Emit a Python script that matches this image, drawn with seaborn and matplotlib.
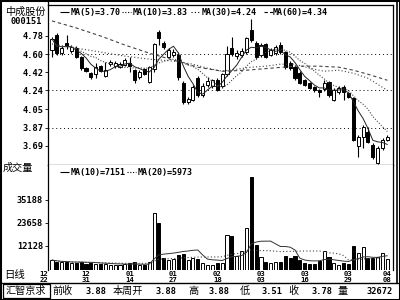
import numpy as np
import pandas as pd
import matplotlib
matplotlib.use("Agg")
import matplotlib.pyplot as plt
import matplotlib.transforms as mtrans
from matplotlib.lines import Line2D
from matplotlib.patches import Rectangle
import seaborn as sns

# ---------------- data ----------------
stock_name = "中成股份"
stock_code = "000151"

opens = [4.64, 4.79, 4.61, 4.71, 4.63, 4.66, 4.57, 4.46, 4.41, 4.40,
         4.48, 4.38, 4.50, 4.48, 4.47, 4.49, 4.51, 4.44, 4.37, 4.45,
         4.32, 4.45, 4.82, 4.71, 4.57, 4.59, 4.59, 4.31, 4.12, 4.14,
         4.36, 4.19, 4.29, 4.28, 4.34, 4.28, 4.40, 4.66, 4.58, 4.59,
         4.62, 4.84, 4.71, 4.59, 4.70, 4.59, 4.61, 4.69, 4.62, 4.51,
         4.47, 4.41, 4.34, 4.31, 4.27, 4.24, 4.25, 4.32, 4.14, 4.22,
         4.27, 4.21, 4.16, 3.69, 3.78, 3.83, 3.70, 3.52, 3.67, 3.75]
highs = [4.77, 4.81, 4.68, 4.79, 4.69, 4.68, 4.58, 4.47, 4.42, 4.51,
         4.49, 4.52, 4.54, 4.53, 4.52, 4.56, 4.57, 4.45, 4.44, 4.46,
         4.48, 4.71, 4.84, 4.73, 4.66, 4.65, 4.62, 4.33, 4.17, 4.29,
         4.38, 4.31, 4.37, 4.35, 4.36, 4.41, 4.68, 4.77, 4.64, 4.66,
         4.77, 4.95, 4.73, 4.71, 4.71, 4.66, 4.69, 4.72, 4.63, 4.53,
         4.49, 4.43, 4.35, 4.32, 4.28, 4.25, 4.34, 4.33, 4.26, 4.28,
         4.29, 4.22, 4.17, 3.80, 3.90, 3.88, 3.72, 3.69, 3.77, 3.80]
lows = [4.57, 4.59, 4.59, 4.65, 4.61, 4.56, 4.44, 4.42, 4.35, 4.36,
        4.42, 4.37, 4.48, 4.46, 4.46, 4.48, 4.42, 4.31, 4.35, 4.39,
        4.31, 4.42, 4.69, 4.65, 4.56, 4.57, 4.34, 4.10, 4.10, 4.13,
        4.17, 4.17, 4.27, 4.26, 4.23, 4.26, 4.38, 4.58, 4.55, 4.57,
        4.60, 4.72, 4.55, 4.57, 4.56, 4.58, 4.59, 4.60, 4.45, 4.44,
        4.34, 4.30, 4.28, 4.25, 4.22, 4.17, 4.23, 4.17, 4.13, 4.20,
        4.14, 4.16, 3.74, 3.58, 3.67, 3.72, 3.56, 3.51, 3.65, 3.74]
closes = [4.75, 4.61, 4.66, 4.68, 4.67, 4.57, 4.46, 4.43, 4.37, 4.47,
          4.43, 4.44, 4.52, 4.51, 4.50, 4.54, 4.48, 4.34, 4.42, 4.40,
          4.47, 4.70, 4.76, 4.67, 4.64, 4.62, 4.37, 4.12, 4.15, 4.27,
          4.19, 4.28, 4.33, 4.34, 4.24, 4.40, 4.60, 4.60, 4.61, 4.63,
          4.76, 4.74, 4.57, 4.69, 4.57, 4.64, 4.67, 4.62, 4.47, 4.46,
          4.36, 4.31, 4.29, 4.26, 4.24, 4.22, 4.31, 4.19, 4.24, 4.26,
          4.22, 4.17, 3.75, 3.78, 3.88, 3.73, 3.58, 3.67, 3.75, 3.78]
volumes = [5000, 4200, 3800, 4000, 3300, 3500, 4200, 3000, 3400, 3200,
           2800, 3000, 2600, 2400, 2500, 2800, 3600, 3800, 2600, 2500,
           4000, 28500, 23500, 6000, 5000, 5500, 7500, 8000, 5000, 6000,
           5500, 3500, 2600, 2600, 3500, 3500, 17500, 17000, 7000, 9500,
           21000, 46600, 12500, 6500, 4000, 3500, 3800, 3800, 7000, 6000,
           6800, 5200, 3500, 3000, 3000, 4300, 9500, 6650, 3300, 2700,
           3600, 3200, 12000, 8600, 11438, 6000, 6200, 6500, 8300, 5672]

ma30_idx = [0, 5, 10, 15, 20, 25, 29, 32, 35, 38, 41, 44, 47, 50, 53, 56, 59, 62, 65, 67, 69]
ma30_val = [4.70, 4.66, 4.62, 4.58, 4.55, 4.53, 4.50, 4.46, 4.43, 4.45, 4.47, 4.48,
            4.50, 4.50, 4.46, 4.43, 4.44, 4.41, 4.36, 4.30, 4.24]
ma60_idx = [0, 5, 10, 15, 20, 25, 30, 35, 40, 45, 50, 55, 59, 62, 65, 67, 69]
ma60_val = [4.93, 4.86, 4.78, 4.69, 4.61, 4.54, 4.47, 4.43, 4.44, 4.46, 4.48, 4.48,
            4.47, 4.44, 4.40, 4.37, 4.34]

date_labels = ["12\n22", "12\n31", "01\n14", "01\n27", "02\n18",
               "03\n03", "03\n16", "03\n29", "04\n08"]
date_idx = [0, 7, 16, 25, 34, 43, 52, 61, 69]

price_ticks = [4.78, 4.60, 4.42, 4.24, 4.05, 3.87, 3.69]
price_tick_labels = ["4.78", "4.60", "4.42", "4.24", "4.05", "3.87", "3.69"]
price_grid = [4.60, 4.24, 3.87]
vol_ticks = [35188, 23658, 12128]

summary_labels = ["前收", "本周开", "高", "低", "收", "量"]
summary_values = ["3.88", "3.88", "3.88", "3.51", "3.78", "32672"]
broker = "汇智京求"
period_label = "日线"
volume_label = "成交量"

# ---------------- style ----------------
sns.set_theme(style="white")
plt.rcParams['font.family'] = ['DejaVu Sans Mono', 'Noto Sans CJK SC']
MONO = dict(family='DejaVu Sans Mono', weight='bold')
CJK = dict(family=['Noto Sans CJK SC', 'DejaVu Sans'])

fig = plt.figure(figsize=(4, 3), dpi=100)
fig.patch.set_facecolor('white')

def FX(px):
    return px / 400.0

def FY(py):
    return 1 - py / 300.0

L, R = 48, 393
ax_p = fig.add_axes([FX(L), FY(165), FX(R - L), 160 / 300])
ax_v = fig.add_axes([FX(L), FY(270), FX(R - L), 105 / 300])

n = len(closes)
x = np.arange(n)
o = np.array(opens); c = np.array(closes)
h = np.array(highs); lo = np.array(lows)
up = c >= o
cols = ['white' if u else 'black' for u in up]

df = pd.DataFrame({'i': x, 'close': c, 'vol': volumes})
df['ma5'] = df['close'].rolling(5, min_periods=1).mean()
df['ma10'] = df['close'].rolling(10, min_periods=1).mean()
df['vma10'] = df['vol'].rolling(10, min_periods=1).mean()
df['vma20'] = df['vol'].rolling(20, min_periods=1).mean()

# ---------------- price panel ----------------
for g in price_grid:
    ax_p.axhline(g, color='black', lw=0.7, ls=(0, (1, 3)), zorder=1)

ax_p.vlines(x, lo, h, color='black', lw=0.8, zorder=3)
body = np.maximum(np.abs(c - o), 0.006)
ax_p.bar(x, body, bottom=np.minimum(o, c), width=0.64, color=cols,
         edgecolor='black', linewidth=0.7, zorder=4)

sns.lineplot(x=df['i'], y=df['ma5'], ax=ax_p, color='#222222', lw=0.7, zorder=5)
sns.lineplot(x=df['i'], y=df['ma10'], ax=ax_p, color='#444444', lw=0.8,
             linestyle=(0, (1, 1.5)), zorder=5)
sns.lineplot(x=ma30_idx, y=ma30_val, ax=ax_p, color='#444444', lw=0.8,
             linestyle=(0, (1, 2)), zorder=5)
sns.lineplot(x=ma60_idx, y=ma60_val, ax=ax_p, color='#444444', lw=0.8,
             linestyle=(0, (3, 2.5)), zorder=5)

ax_p.set_xlim(-0.82, 70.16)
ax_p.set_ylim(3.498, 5.088)
ax_p.set_xticks([])
ax_p.set_yticks(price_ticks)
ax_p.set_yticklabels(price_tick_labels)
ax_p.set_xlabel(''); ax_p.set_ylabel('')

# ---------------- volume panel ----------------
ax_v.bar(x, volumes, width=0.64, color=cols, edgecolor='black', linewidth=0.7, zorder=3)
sns.lineplot(x=df['i'], y=df['vma10'], ax=ax_v, color='#333333', lw=0.7, zorder=4)
sns.lineplot(x=df['i'], y=df['vma20'], ax=ax_v, color='#444444', lw=0.8,
             linestyle=(0, (1, 2)), zorder=4)
ax_v.set_xlim(-0.82, 70.16)
ax_v.set_ylim(0, 52780)
ax_v.set_xticks([])
ax_v.set_yticks(vol_ticks)
ax_v.set_yticklabels([str(v) for v in vol_ticks])
ax_v.set_xlabel(''); ax_v.set_ylabel('')

for ax in (ax_p, ax_v):
    ax.set_facecolor('white')
    ax.tick_params(axis='y', left=True, length=2, width=0.6, pad=1.5,
                   direction='out', colors='black', labelsize=6.2)
    for lbl in ax.get_yticklabels():
        lbl.set_fontfamily('DejaVu Sans Mono')
        lbl.set_fontweight('bold')
    for s in ax.spines.values():
        s.set_color('black')
        s.set_linewidth(0.9)
ax_v.spines['top'].set_visible(False)
ax_v.spines['bottom'].set_visible(False)

# date labels under the volume panel
tr = mtrans.blended_transform_factory(ax_v.transData, fig.transFigure)
for k, (lab, di) in enumerate(zip(date_labels, date_idx)):
    top, bot = lab.split("\n")
    xpos = -0.82 if k == 0 else di
    ha = 'right' if k == 0 else 'center'
    ax_v.text(xpos, FY(273.5), top, transform=tr, ha=ha, va='center',
              fontsize=5.2, color='black', **MONO)
    ax_v.text(xpos, FY(279.5), bot, transform=tr, ha=ha, va='center',
              fontsize=5.2, color='black', **MONO)

# ---------------- legends ----------------
ma_entries = [
    ((0, ()), f"MA(5)={df['ma5'].iloc[-1]:.2f}", 60, 71),
    ((0, (1, 1.5)), f"MA(10)={df['ma10'].iloc[-1]:.2f}", 122, 133),
    ((0, (1, 2)), f"MA(30)={ma30_val[-1]:.2f}", 191, 202),
    ((0, (3, 2)), f"MA(60)={ma60_val[-1]:.2f}", 264, 273),
]
for ls, txt, sx, tx in ma_entries:
    fig.add_artist(Line2D([FX(sx), FX(sx + 9)], [FY(12), FY(12)], transform=fig.transFigure,
                          color='black', lw=0.8, ls=ls))
    fig.text(FX(tx), FY(12), txt, ha='left', va='center', fontsize=6, color='black', **MONO)

vma_entries = [
    ((0, ()), f"MA(10)={int(round(df['vma10'].iloc[-1]))}", 60, 71),
    ((0, (1, 1.5)), f"MA(20)={int(round(df['vma20'].iloc[-1]))}", 127, 138),
]
for ls, txt, sx, tx in vma_entries:
    fig.add_artist(Line2D([FX(sx), FX(sx + 9)], [FY(172), FY(172)], transform=fig.transFigure,
                          color='black', lw=0.8, ls=ls))
    fig.text(FX(tx), FY(172), txt, ha='left', va='center', fontsize=6, color='black', **MONO)

# ---------------- left column labels ----------------
fig.text(FX(25), FY(11.5), stock_name, ha='center', va='center', fontsize=7.3, color='black', **CJK)
fig.text(FX(26), FY(22), stock_code, ha='center', va='center', fontsize=6.2, color='black', **MONO)
fig.text(FX(3), FY(168), volume_label, ha='left', va='center', fontsize=7.3, color='black', **CJK)
fig.text(FX(4), FY(275), period_label, ha='left', va='center', fontsize=7.5, color='black', **CJK)

# ---------------- status bar ----------------
fig.add_artist(Line2D([0, 1], [FY(283), FY(283)], transform=fig.transFigure, color='black', lw=1.0))
fig.add_artist(Rectangle((FX(2.5), FY(298)), FX(47.5), 14 / 300, transform=fig.transFigure,
                         fill=False, edgecolor='black', lw=0.9))
fig.text(FX(26), FY(291), broker, ha='center', va='center', fontsize=7.3, color='black', **CJK)
label_x = [52, 113, 188, 240, 288, 337]
value_x = [107, 177, 230, 282, 332, 393]
for lab, val, lx, vx in zip(summary_labels, summary_values, label_x, value_x):
    fig.text(FX(lx), FY(291), lab, ha='left', va='center', fontsize=7.3, color='black', **CJK)
    fig.text(FX(vx), FY(291), val, ha='right', va='center', fontsize=6.2, color='black', **MONO)

# ---------------- frame ----------------
fig.add_artist(Line2D([FX(48), FX(48)], [FY(0), FY(5)], transform=fig.transFigure, color='black', lw=0.9))
fig.add_artist(Line2D([FX(397), FX(397)], [FY(0), FY(283)], transform=fig.transFigure, color='black', lw=1.2))
fig.add_artist(Rectangle((0, 0), 1, 1, transform=fig.transFigure, fill=False, edgecolor='black', lw=2.2))

fig.savefig("out.png", dpi=100, facecolor='white')
